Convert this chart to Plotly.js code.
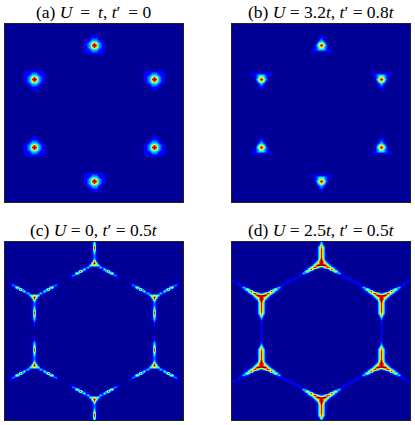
<!DOCTYPE html>
<html>
<head>
    <title>Spectral function panels</title>
    <script src="https://cdn.plot.ly/plotly-3.0.1.min.js"></script>
    <style>
        body { margin: 0; background-color: white; }
    </style>
</head>
<body>
    <div id="chart"></div>

    <script>
        // Panel titles
        const titles = [
            '(a) <i>U</i>\u2009 = \u2009<i>t</i>, <i>t</i>\u2032\u2009 = 0',
            '(b) <i>U</i> = 3.2<i>t</i>, <i>t</i>\u2032 = 0.8<i>t</i>',
            '(c) <i>U</i> = 0, <i>t</i>\u2032 = 0.5<i>t</i>',
            '(d) <i>U</i> = 2.5<i>t</i>, <i>t</i>\u2032 = 0.5<i>t</i>'
        ];

        // Peak positions on the 89x89 grid, flip = arms pointing down
        const spotCols = [44, 14, 74, 14, 74, 44];
        const spotRows = [10, 27, 27, 61, 61, 78];
        const spotFlip = [false, true, true, false, false, true];

        // Right half of one peak. First char is the centre column,
        // digits are colour levels 0-9, one char is 2px
        const peakA = [
            '11',
            '111',
            '2211',
            '33211',
            '853211',
            '983211',
            '853211',
            '332111',
            '221111',
            '11111'
        ];
        const peakB = [
            '1',
            '11',
            '21',
            '321',
            '642',
            '96310',
            '64210',
            '33211',
            '111111'
        ];
        const peakC = [
            '0',
            '1',
            '1',
            '2',
            '31',
            '41',
            '61',
            '81',
            '71',
            '41',
            '31',
            '21',
            '21',
            '31',
            '72',
            '951',
            '54410',
            '00132100',
            '000114210',
            '00000138210',
            '000000014510',
            '000000000122',
            '00000000000110'
        ];
        const peakD = [
            '0',
            '1',
            '1',
            '1',
            '1',
            '1',
            '1',
            '2',
            '31',
            '62',
            '741',
            '841',
            '841',
            '841',
            '841',
            '841',
            '951',
            '9731',
            '97531',
            '899631',
            '23587421',
            '000138521',
            '00000136310',
            '00000001231',
            '00000000001100',
            '000000000001100',
            '000000000000011',
            '00000000000000011',
            '000000000000000001'
        ];
        const peaks = [peakA, peakB, peakC, peakD];
        const peakCentre = [5, 5, 15, 18];

        const jetColors = ['#000096', '#0000ff', '#00ffff', '#ffff00', '#ff0000', '#800000'];
        const jetStops = [0, 0.11, 0.36, 0.62, 0.87, 1];

        const gridSize = 89;

        function buildGrid(peak, centre) {
            const z = [];
            for (let r = 0; r < gridSize; r++) z.push(new Array(gridSize).fill(0));
            spotCols.forEach((col, s) => {
                peak.forEach((row, i) => {
                    const dr = spotFlip[s] ? centre - i : i - centre;
                    const rr = spotRows[s] + dr;
                    if (rr < 0 || rr >= gridSize) return;
                    for (let c = 0; c < row.length; c++) {
                        const v = Number(row[c]);
                        [col + c, col - c].forEach(cc => {
                            if (cc >= 0 && cc < gridSize && v > z[rr][cc]) z[rr][cc] = v;
                        });
                    }
                });
            });
            return z;
        }

        const colorscale = jetStops.map((s, i) => [s, jetColors[i]]);
        const traces = peaks.map((peak, i) => ({
            type: 'heatmap',
            z: buildGrid(peak, peakCentre[i]),
            xaxis: i ? 'x' + (i + 1) : 'x',
            yaxis: i ? 'y' + (i + 1) : 'y',
            zmin: 0,
            zmax: 9,
            zsmooth: 'best',
            colorscale: colorscale,
            showscale: false,
            hoverinfo: 'skip'
        }));

        const W = 415, H = 425;
        const lefts = [5, 232, 5, 232];
        const tops = [24, 24, 242, 242];
        const side = 178;

        const layout = {
            width: W,
            height: H,
            margin: {l: 0, r: 0, t: 0, b: 0},
            paper_bgcolor: 'white',
            showlegend: false,
            annotations: []
        };
        titles.forEach((t, i) => {
            const suffix = i ? i + 1 : '';
            const axis = {
                range: [-0.5, gridSize - 0.5],
                domain: [lefts[i] / W, (lefts[i] + side) / W],
                showgrid: false,
                zeroline: false,
                ticks: '',
                showticklabels: false,
                showline: true,
                mirror: true,
                linecolor: '#222',
                linewidth: 1,
                anchor: 'y' + suffix
            };
            layout['xaxis' + suffix] = axis;
            layout['yaxis' + suffix] = Object.assign({}, axis, {
                range: [gridSize - 0.5, -0.5],
                domain: [1 - (tops[i] + side) / H, 1 - tops[i] / H],
                anchor: 'x' + suffix
            });
            layout.annotations.push({
                text: t,
                xref: 'paper',
                yref: 'paper',
                x: (lefts[i] + side / 2) / W,
                y: 1 - (tops[i] - 1) / H,
                xanchor: 'center',
                yanchor: 'bottom',
                showarrow: false,
                borderpad: 0,
                font: {family: '"Liberation Serif", serif', size: 17.5, color: 'black'}
            });
        });

        Plotly.newPlot('chart', traces, layout, {displayModeBar: false, staticPlot: true});
    </script>
</body>
</html>
